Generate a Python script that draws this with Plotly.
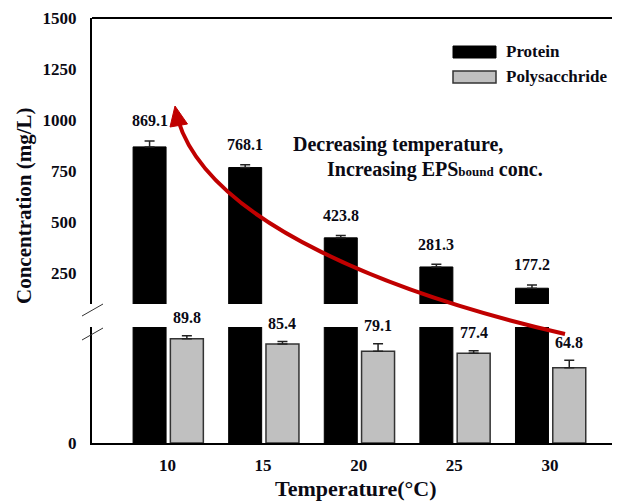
import plotly.graph_objects as go

# ---------------- data ----------------
temperatures = ["10", "15", "20", "25", "30"]
series_names = ["Protein", "Polysacchride"]
protein = [869.1, 768.1, 423.8, 281.3, 177.2]
protein_err = [29, 13, 11, 13, 16]
polysaccharide = [89.8, 85.4, 79.1, 77.4, 64.8]
polysaccharide_err = [2.7, 2.0, 6.4, 2.2, 6.5]
upper_ticks = [250, 500, 750, 1000, 1250, 1500]
lower_ticks = [0]

# ---------------- layout geometry (window pixels) ----------------
WIN_W, WIN_H = 620, 501
OFF = 8  # page body margin
PL, PR, PT, PB = 92, 620, 18, 443   # plot area in window pixels
PW, PH = PR - PL, PB - PT
FONT = "Liberation Serif"
TXT = "#0a0a14"


def px(x):
    return (x - PL) / PW


def py(y):
    return (PB - y) / PH


xs = list(range(len(temperatures)))
x_range = [(PL - 167.5) / 95.6, (PR - 167.5) / 95.6]
lower_dom = [0, py(327)]
upper_dom = [py(304), 1]

fig = go.Figure()

# lower segment (0-100)
fig.add_bar(x=xs, y=protein, name=series_names[0], yaxis="y", xaxis="x",
            offset=-0.36, width=0.345,
            marker=dict(color="black", line=dict(color="black", width=1)),
            showlegend=False)
fig.add_bar(x=xs, y=polysaccharide, name=series_names[1], yaxis="y", xaxis="x",
            offset=0.03, width=0.345,
            marker=dict(color="#c0c0c0", line=dict(color="#333333", width=1.5)),
            error_y=dict(type="data", array=polysaccharide_err, symmetric=False,
                         arrayminus=[0] * 5, color="#222222", thickness=1.5, width=5),
            showlegend=False)
# upper segment (100-1500)
fig.add_bar(x=xs, y=protein, name=series_names[0], yaxis="y2", xaxis="x",
            offset=-0.36, width=0.345,
            marker=dict(color="black", line=dict(color="black", width=1)),
            error_y=dict(type="data", array=protein_err, symmetric=False,
                         arrayminus=[0] * 5, color="#222222", thickness=1.5, width=5),
            showlegend=False)

ann = []
for i, (v, e) in enumerate(zip(protein, protein_err)):
    ann.append(dict(x=xs[i] - 0.36 + 0.345 / 2, y=v + e, xref="x", yref="y2",
                    text=f"{v:.1f}", showarrow=False, xanchor="center",
                    yanchor="middle", yshift=20,
                    font=dict(family=FONT, size=16, color=TXT, weight="bold")))
for i, (v, e) in enumerate(zip(polysaccharide, polysaccharide_err)):
    ann.append(dict(x=xs[i] + 0.03 + 0.345 / 2, y=v + e, xref="x", yref="y",
                    text=f"{v:.1f}", showarrow=False, xanchor="center",
                    yanchor="middle", yshift=18,
                    font=dict(family=FONT, size=16, color=TXT, weight="bold")))


def paper_text(x, y, text, size, xanchor="center", angle=0):
    ann.append(dict(x=px(x), y=py(y), xref="paper", yref="paper", text=text,
                    showarrow=False, xanchor=xanchor, yanchor="middle",
                    textangle=angle,
                    font=dict(family=FONT, size=size, color=TXT, weight="bold")))


paper_text(24, 206, "Concentration (mg/L)", 21, angle=-90)
paper_text(356, 488, "Temperature(°C)", 22)
paper_text(291, 144, "Decreasing temperature,", 20, xanchor="left")
paper_text(325, 169, "Increasing EPS<span style='font-size:13px'>bound</span> conc.",
           20, xanchor="left")
paper_text(504, 52, series_names[0], 17, xanchor="left")
paper_text(504, 77, series_names[1], 17, xanchor="left")

shapes = []
shapes.append(dict(type="rect", xref="paper", yref="paper", x0=px(453), x1=px(496),
                   y0=py(58), y1=py(46), fillcolor="black",
                   line=dict(color="black", width=1)))
shapes.append(dict(type="rect", xref="paper", yref="paper", x0=px(453), x1=px(496),
                   y0=py(83), y1=py(71), fillcolor="#c0c0c0",
                   line=dict(color="#333333", width=1.5)))
shapes.append(dict(type="line", xref="paper", yref="paper", x0=0, x1=1.02, y0=1, y1=1,
                   line=dict(color="black", width=2)))
for (xa, xb) in [(82, 103), (612, 633)]:
    for (ya, yb) in [(316, 304), (340, 328)]:
        shapes.append(dict(type="line", xref="paper", yref="paper",
                           x0=px(xa), x1=px(xb), y0=py(ya), y1=py(yb),
                           line=dict(color="#333333", width=1)))

# curved red arrow
P0, P1, P2, P3 = (565, 334), (400, 296), (210, 225), (178, 120)
path = "M {},{} C {},{} {},{} {},{}".format(
    px(P0[0]), py(P0[1]), px(P1[0]), py(P1[1]), px(P2[0]), py(P2[1]),
    px(P3[0]), py(P3[1]))
shapes.append(dict(type="path", xref="paper", yref="paper", path=path,
                   line=dict(color="#c00000", width=4)))
head = "M {},{} L {},{} L {},{} Z".format(px(175), py(106), px(187.5), py(124),
                                          px(170), py(127))
shapes.append(dict(type="path", xref="paper", yref="paper", path=head,
                   fillcolor="#c00000", line=dict(color="#c00000", width=1)))

tickfont = dict(family=FONT, size=17, color=TXT, weight="bold")
fig.update_layout(
    width=WIN_W - OFF, height=WIN_H - OFF,
    margin=dict(l=PL - OFF, r=WIN_W - PR, t=PT - OFF, b=WIN_H - PB, pad=0),
    paper_bgcolor="white", plot_bgcolor="white",
    barmode="overlay",
    xaxis=dict(range=x_range, tickvals=xs, ticktext=temperatures, showgrid=False,
               zeroline=False, showline=True, linecolor="black", linewidth=2,
               ticks="", ticklabelstandoff=6, tickfont=tickfont, anchor="y"),
    yaxis=dict(domain=lower_dom, range=[0, 100], tickvals=lower_ticks, showgrid=False,
               zeroline=False, showline=True, linecolor="black", linewidth=2,
               ticks="", ticklabelstandoff=10, tickfont=tickfont),
    yaxis2=dict(domain=upper_dom, range=[100, 1500], tickvals=upper_ticks,
                showgrid=False, zeroline=False, showline=True, linecolor="black",
                linewidth=2, ticks="", ticklabelstandoff=10, tickfont=tickfont,
                anchor="x"),
    annotations=ann,
    shapes=shapes,
)

fig.write_html("out.html")
